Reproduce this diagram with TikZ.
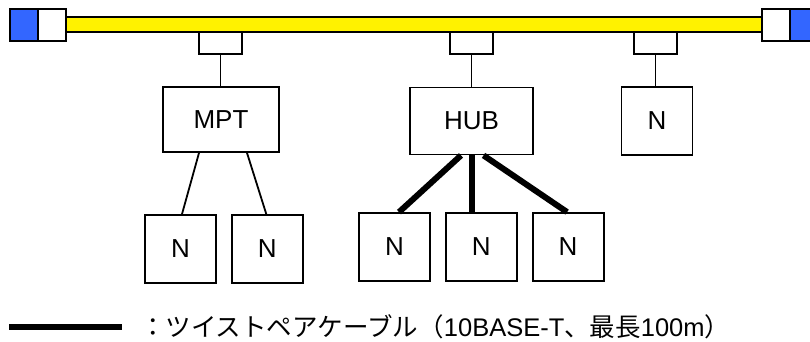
\documentclass[tikz,border=0pt]{standalone}
\usepackage{fontspec}
\setmainfont{Liberation Sans}
\newfontfamily\jp{Noto Sans CJK JP}
\usetikzlibrary{positioning}
\definecolor{termblue}{HTML}{3366FF}

\begin{document}
\begin{tikzpicture}[x=1pt, y=-1pt, node distance=14pt,
        box/.style={draw, line width=1.8pt, inner sep=0pt, font=\fontsize{26}{30}\selectfont},
        nbox/.style={box, minimum width=71pt, minimum height=68pt},
        tap/.style={draw, fill=white, line width=1.8pt, minimum width=43pt, minimum height=22pt, inner sep=0pt},
        term/.style={draw, line width=2.4pt, minimum width=28pt, minimum height=32pt, inner sep=0pt},
        thin/.style={line width=1.8pt},
        twisted/.style={line width=6pt}]
        \clip (0,0) rectangle (810,341);

        \node[tap] (t1) at (220.5,43) {};
        \node[tap] (t2) at (471.5,43) {};
        \node[tap] (t3) at (655.5,43) {};

        \node[draw, fill=yellow, line width=2.4pt, minimum width=700pt, minimum height=15pt, inner sep=0pt] (bus) at (414,24.5) {};
        \node[term, fill=termblue] (lb) at (24,25) {};
        \node[term, fill=white] (lw) at (52,25) {};
        \node[term, fill=white] (rw) at (776,25) {};
        \node[term, fill=termblue] (rb) at (804,25) {};

        \node[box, minimum width=116pt, minimum height=65pt] (mpt) at (221,119.5) {MPT};
        \node[box, minimum width=123pt, minimum height=67pt] (hub) at (471.5,121) {HUB};
        \node[nbox] (n0) at (657,121) {N};

        \node[nbox] (n1) at (180.5,249) {N};
        \node[nbox] (n2) [right=of n1] {N};

        \node[nbox] (n3) at (394.5,247) {N};
        \node[nbox] (n4) [right=of n3] {N};
        \node[nbox] (n5) [right=of n4] {N};

        \draw[thin] (t1.south) -- (t1.south |- mpt.north);
        \draw[thin] (t2.south) -- (t2.south |- hub.north);
        \draw[thin] (t3.south) -- (t3.south |- n0.north);

        \draw[thin] ([xshift=-22pt]mpt.south) -- ([xshift=1.5pt]n1.north);
        \draw[thin] ([xshift=26pt]mpt.south) -- ([xshift=-1pt]n2.north);

        \draw[twisted] ([xshift=-10.5pt]hub.south) -- ([xshift=4.5pt]n3.north);
        \draw[twisted] (hub.south) -- (hub.south |- n4.north);
        \draw[twisted] ([xshift=12pt]hub.south) -- ([xshift=-1pt]n5.north);

        \coordinate (lgstart) at (9,327);
        \coordinate (lgend) at (122,327);
        \draw[twisted] (lgstart) -- (lgend);
        \node[anchor=west, inner sep=0pt, font=\fontsize{25.5}{30}\selectfont] (legend) at (140,327)
            {{\jp ：ツイストペアケーブル（}10BASE-T{\jp 、最長}100m{\jp ）}};
    \end{tikzpicture}
\end{document}
